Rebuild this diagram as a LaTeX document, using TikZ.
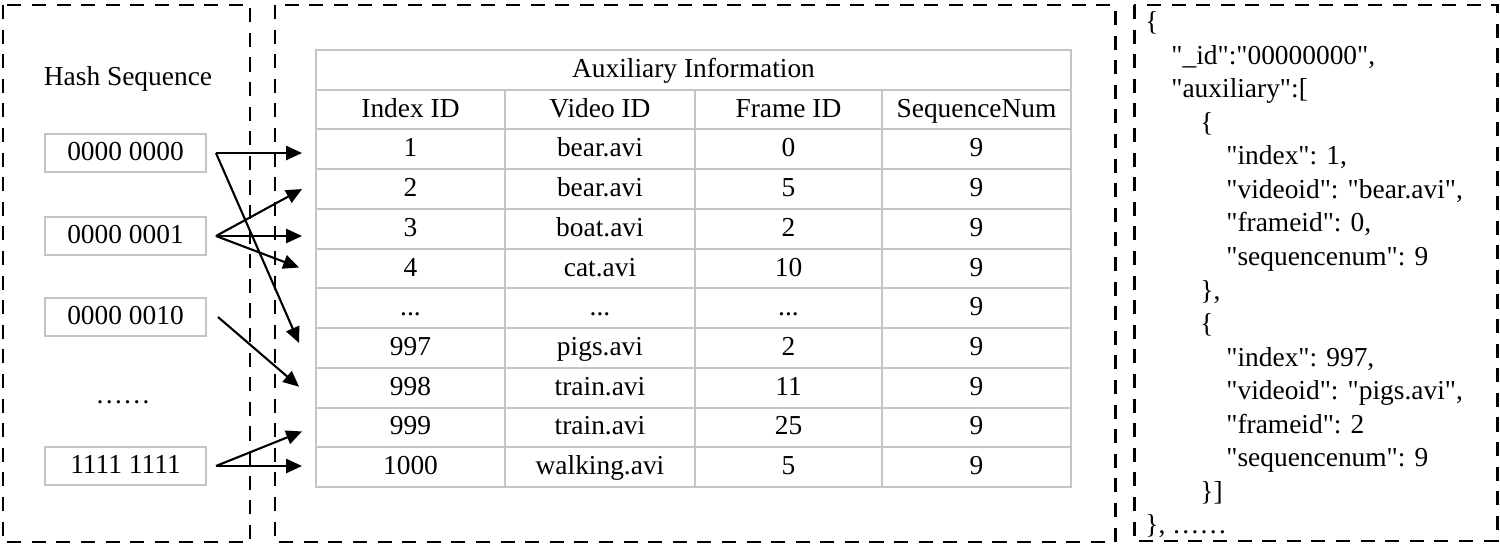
\documentclass[tikz,border=0pt]{standalone}
\usepackage{fontspec}
\newfontfamily\plainrm{Liberation Serif}
\usetikzlibrary{calc,arrows.meta}
\definecolor{cellgray}{HTML}{C4C4C4}
\newcommand{\tdots}{...}
\begin{document}
\begin{tikzpicture}[x=0.02cm,y=-0.02cm,
  every node/.style={font=\plainrm\fontsize{15.6}{18}\selectfont},
  panel/.style={draw=black,line width=1.7pt,dash pattern=on 8pt off 6pt},
  cell/.style={draw=cellgray,line width=1.1pt,inner sep=0pt,minimum height=39.73*0.02cm,text height=1.1em,text depth=0.24em},
  hashbox/.style={draw=cellgray,line width=1.1pt,inner sep=0pt,minimum width=161*0.02cm,minimum height=38*0.02cm,text height=1.1em,text depth=0.24em},
  arr/.style={line width=1.2pt,-{Triangle[length=9pt,width=8pt]}},
  jl/.style={anchor=base west,inner sep=0pt}]
\useasboundingbox (0,0) rectangle (1500,547);
% panels
\draw[panel] (3,5) rectangle (250,542);
\draw[panel] (275,5) rectangle (1115,542);
\draw[panel] (1134,5) rectangle (1497,541);
% hash sequence
\node (hs) at (128,79) {Hash Sequence};
\node[hashbox] (h1) at (125.5,153) {0000 0000};
\node[hashbox] (h2) at (125.5,236) {0000 0001};
\node[hashbox] (h3) at (125.5,317) {0000 0010};
\node[anchor=base,inner sep=0pt] (hd) at (123,403) {……};
\node[hashbox] (h5) at (125.5,466) {1111 1111};
% table
\node[cell,minimum width=755*0.02cm] (title) at (693.5,69.9) {Auxiliary Information};
\node[cell,minimum width=189*0.02cm] (hd1) at (410.5,109.6) {Index ID};
\node[cell,minimum width=190*0.02cm] (hd2) at (600,109.6) {Video ID};
\node[cell,minimum width=187*0.02cm] (hd3) at (788.5,109.6) {Frame ID};
\node[cell,minimum width=189*0.02cm] (hd4) at (976.5,109.6) {SequenceNum};
\foreach \a/\b/\c/\d [count=\i] in {1/bear.avi/0/9,2/bear.avi/5/9,3/boat.avi/2/9,4/cat.avi/10/9,\tdots/\tdots/\tdots/9,997/pigs.avi/2/9,998/train.avi/11/9,999/train.avi/25/9,1000/walking.avi/5/9}{
  \pgfmathsetmacro{\yy}{50+39.73*(\i+1)+19.86}
  \node[cell,minimum width=189*0.02cm] (c\i-1) at (410.5,\yy) {\a};
  \node[cell,minimum width=190*0.02cm] (c\i-2) at (600,\yy) {\b};
  \node[cell,minimum width=187*0.02cm] (c\i-3) at (788.5,\yy) {\c};
  \node[cell,minimum width=189*0.02cm] (c\i-4) at (976.5,\yy) {\d};
}
% arrow tips
\coordinate (t1) at ($(c1-1.west |- h1.east)+(-13,0)$);
\coordinate (t2) at ($(c2-1.west)+(-13,0)$);
\coordinate (t3) at ($(c3-1.west |- h2.east)+(-13,0)$);
\coordinate (t4) at ($(c4-1.west)+(-16,-1)$);
\coordinate (t6) at ($(c6-1.west)+(-16,-5)$);
\coordinate (t7) at ($(c7-1.west)+(-16,-1)$);
\coordinate (t8) at ($(c8-1.west)+(-13,4)$);
\coordinate (t9) at ($(c9-1.west |- h5.east)+(-13,0)$);
% arrows
\draw[arr] ($(h1.east)+(9,0)$) -- (t1);
\draw[arr] ($(h1.east)+(9,0)$) -- (t6);
\draw[arr] ($(h2.east)+(9,0)$) -- (t2);
\draw[arr] ($(h2.east)+(9,0)$) -- (t3);
\draw[arr] ($(h2.east)+(9,0)$) -- (t4);
\draw[arr] ($(h3.east)+(11,0)$) -- (t7);
\draw[arr] ($(h5.east)+(9,0)$) -- (t8);
\draw[arr] ($(h5.east)+(9,0)$) -- (t9);
% json
\node[jl] (j1) at (1145,31) {\{};
\node[jl] (j2) at (1171,64.5) {"\_id":"00000000",};
\node[jl] (j3) at (1171,98) {"auxiliary":[};
\node[jl] (j4) at (1200,131.5) {\{};
\node[jl] (j5) at (1226,165) {"index": 1,};
\node[jl] (j6) at (1226,198.5) {"videoid": "bear.avi",};
\node[jl] (j7) at (1226,232) {"frameid": 0,};
\node[jl] (j8) at (1226,265.5) {"sequencenum": 9};
\node[jl] (j9) at (1200,299) {\},};
\node[jl] (j10) at (1200,332.5) {\{};
\node[jl] (j11) at (1226,366) {"index": 997,};
\node[jl] (j12) at (1226,399.5) {"videoid": "pigs.avi",};
\node[jl] (j13) at (1226,433) {"frameid": 2};
\node[jl] (j14) at (1226,466.5) {"sequencenum": 9};
\node[jl] (j15) at (1200,500) {\}]};
\node[jl] (j16) at (1145,533.5) {\}, ……};
\end{tikzpicture}
\end{document}
